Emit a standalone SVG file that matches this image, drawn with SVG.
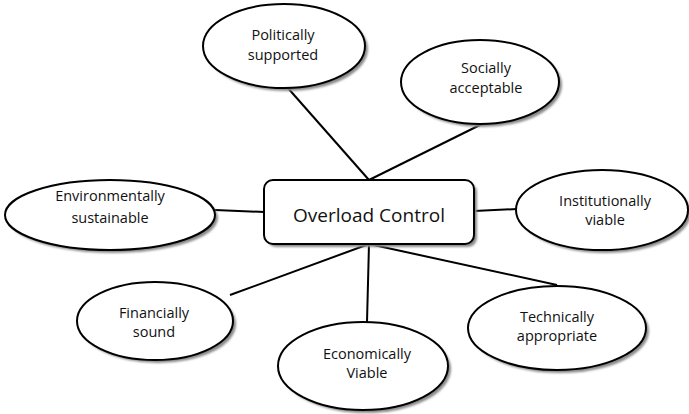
<svg xmlns="http://www.w3.org/2000/svg" width="689" height="414" viewBox="0 0 689 414">
<defs>
<filter id="sh" x="-10%" y="-10%" width="130%" height="130%">
<feGaussianBlur stdDeviation="1"/>
</filter>
</defs>
<style>
.shadow{fill:#8a8a8a;filter:url(#sh)}
.node{fill:#fff;stroke:#000;stroke-width:2}
.lbl{font-family:"Open Sans","Liberation Sans",sans-serif;font-size:14.5px;fill:#111;text-anchor:middle}
.main{font-family:"Open Sans","Liberation Sans",sans-serif;font-size:19px;fill:#111;text-anchor:middle}
.conn line{stroke:#000;stroke-width:2}
</style>
<rect width="689" height="414" fill="#fff"/>
<g id="connectors" class="conn">
<line x1="287" y1="87" x2="369" y2="180"/>
<line x1="484" y1="123" x2="369" y2="180"/>
<line x1="215" y1="210" x2="264" y2="212"/>
<line x1="474" y1="211" x2="517" y2="209"/>
<line x1="230" y1="295" x2="369" y2="244"/>
<line x1="369" y1="244" x2="367" y2="322"/>
<line x1="369" y1="244" x2="557" y2="285"/>
</g>
<g id="politically">
<ellipse class="shadow" cx="287" cy="49" rx="81" ry="42"/>
<ellipse class="node" cx="284" cy="46" rx="81" ry="42"/>
<text class="lbl" x="283" y="40">Politically</text>
<text class="lbl" x="283" y="60">supported</text>
</g>
<g id="socially">
<ellipse class="shadow" cx="483" cy="85" rx="79" ry="42"/>
<ellipse class="node" cx="480" cy="82" rx="79" ry="42"/>
<text class="lbl" x="486" y="73">Socially</text>
<text class="lbl" x="486" y="93">acceptable</text>
</g>
<g id="environmental">
<ellipse class="shadow" cx="113" cy="218" rx="105" ry="35"/>
<ellipse class="node" cx="110" cy="215" rx="105" ry="35"/>
<text class="lbl" x="110" y="201">Environmentally</text>
<text class="lbl" x="110" y="223">sustainable</text>
</g>
<g id="overload">
<rect class="shadow" x="267" y="183" width="210" height="64" rx="9"/>
<rect class="node" x="264" y="180" width="210" height="64" rx="9"/>
<text class="main" x="369" y="222">Overload Control</text>
</g>
<g id="institutional">
<ellipse class="shadow" cx="605" cy="213" rx="86" ry="40"/>
<ellipse class="node" cx="602" cy="210" rx="86" ry="40"/>
<text class="lbl" x="605" y="206">Institutionally</text>
<text class="lbl" x="605" y="225">viable</text>
</g>
<g id="financial">
<ellipse class="shadow" cx="158" cy="324" rx="78" ry="39"/>
<ellipse class="node" cx="155" cy="321" rx="78" ry="39"/>
<text class="lbl" x="154" y="318">Financially</text>
<text class="lbl" x="154" y="337">sound</text>
</g>
<g id="economic">
<ellipse class="shadow" cx="366" cy="369" rx="85" ry="44"/>
<ellipse class="node" cx="363" cy="366" rx="85" ry="44"/>
<text class="lbl" x="367" y="359">Economically</text>
<text class="lbl" x="367" y="378">Viable</text>
</g>
<g id="technical">
<ellipse class="shadow" cx="560" cy="331" rx="89" ry="42"/>
<ellipse class="node" cx="557" cy="328" rx="89" ry="42"/>
<text class="lbl" x="557" y="322">Technically</text>
<text class="lbl" x="557" y="341">appropriate</text>
</g>
</svg>
